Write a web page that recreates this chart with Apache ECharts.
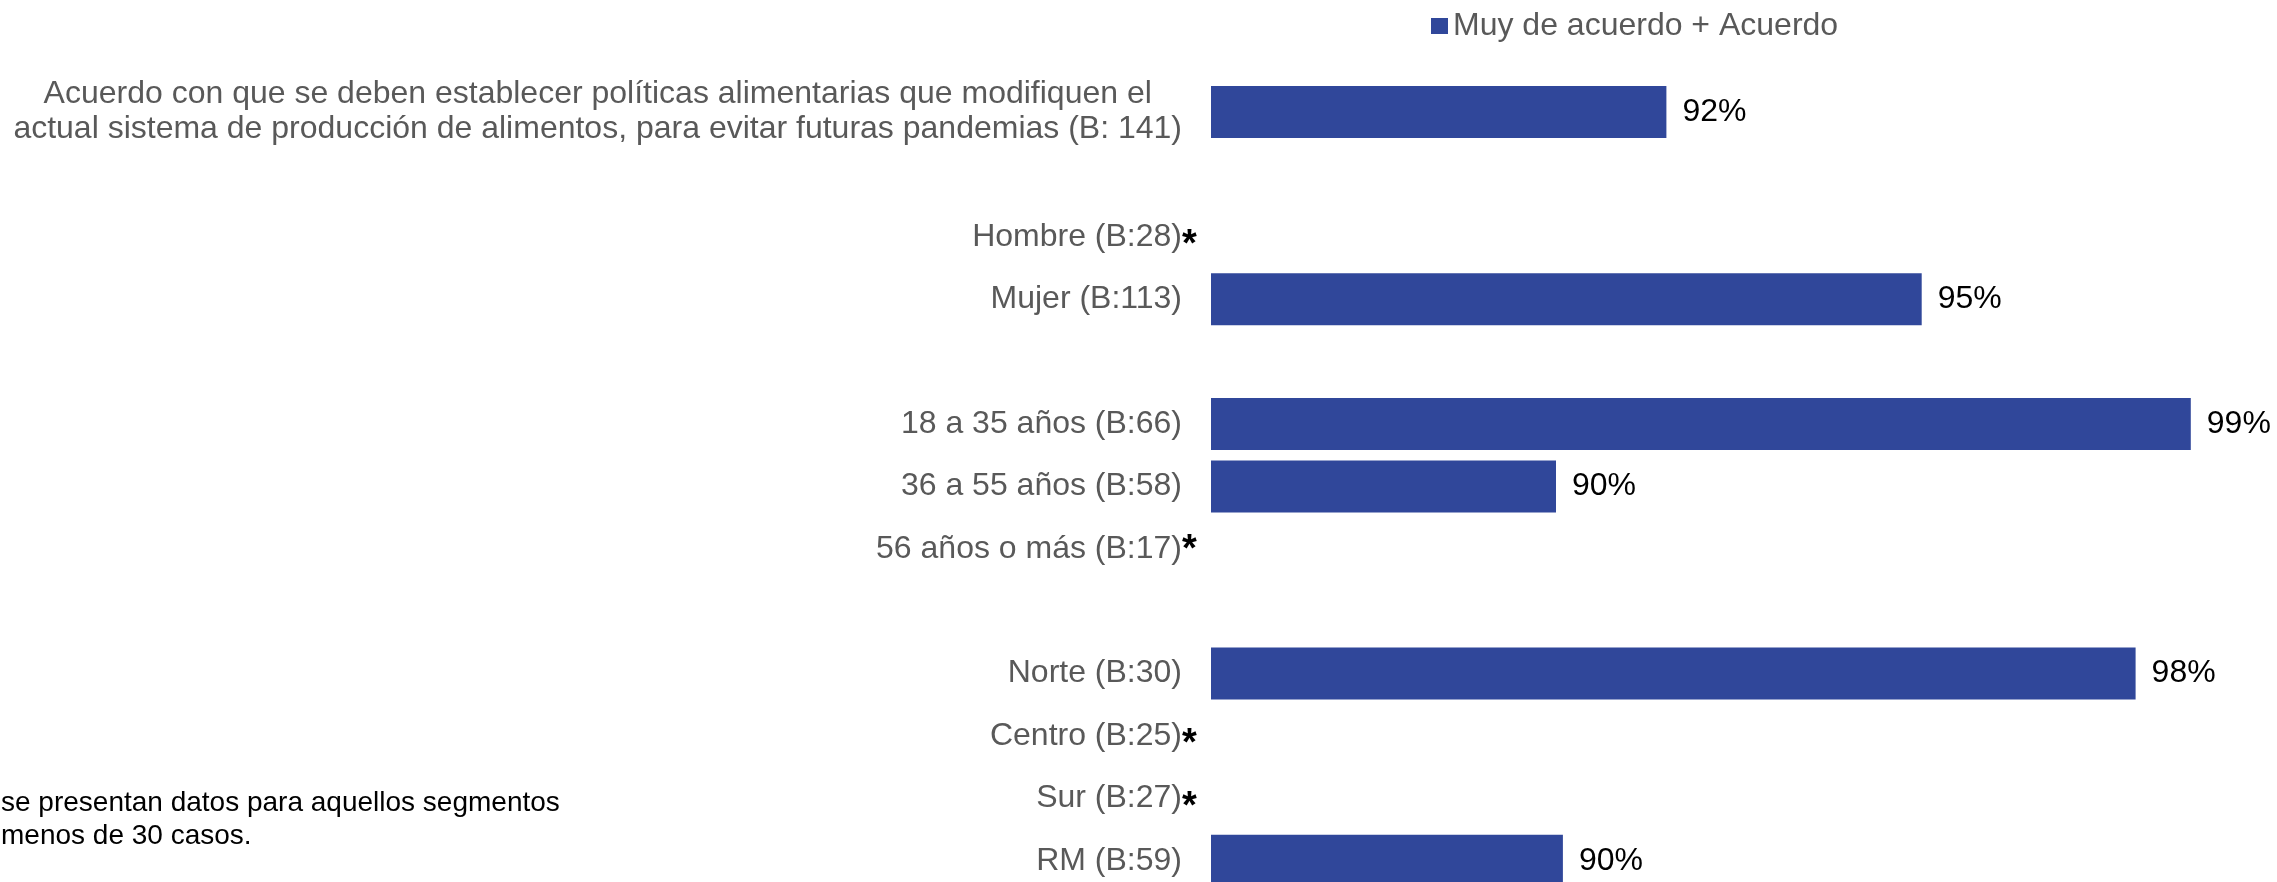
<!DOCTYPE html>
<html>
<head>
    <meta charset="utf-8">
    <script type="text/javascript" src="https://cdn.jsdelivr.net/npm/echarts@6/dist/echarts.min.js"></script>
</head>

<body style="margin:0;background:#fff;">
<div id="main" style="width:2277px;height:882px;"></div>

<script type="text/javascript">
    // categorias de arriba hacia abajo (las vacias son separadores)
    var categorias = [
        'Acuerdo con que se deben establecer políticas alimentarias que modifiquen el\nactual sistema de producción de alimentos, para evitar futuras pandemias (B: 141)',
        ' ',
        'Hombre (B:28)',
        'Mujer (B:113)',
        '  ',
        '18 a 35 años (B:66)',
        '36 a 55 años (B:58)',
        '56 años o más (B:17)',
        '   ',
        'Norte (B:30)',
        'Centro (B:25)',
        'Sur (B:27)',
        'RM (B:59)'
    ];
    // Muy de acuerdo + Acuerdo (%), null = sin dato (menos de 30 casos)
    var valores = [91.6, null, null, 95.3, null, 99.2, 90.0, null, null, 98.4, null, null, 90.1];
    // segmentos con menos de 30 casos -> llevan asterisco
    var menos30 = ['Hombre (B:28)', '56 años o más (B:17)', 'Centro (B:25)', 'Sur (B:27)'];
    var nombreSerie = 'Muy de acuerdo + Acuerdo';
    var notaPie = 'se presentan datos para aquellos segmentos\nmenos de 30 casos.';

    var fuente = 'Liberation Sans, Arial, sans-serif';
    var gris = '#595959';
    var azul = '#30479A';

    var myChart = echarts.init(document.getElementById('main'));

    var option = {
        animation: false,
        backgroundColor: '#ffffff',
        legend: {
            data: [nombreSerie],
            left: 1426,
            top: 5,
            icon: 'rect',
            itemWidth: 17,
            itemHeight: 16,
            textStyle: {color: gris, fontSize: 32, fontFamily: fuente}
        },
        grid: {
            left: 1211,
            top: 80.8,
            width: 1035,
            height: 811.2,
            // la ultima barra queda cortada por el borde, igual que el original
            outerBoundsMode: 'none'
        },
        xAxis: {
            type: 'value',
            min: 85,
            max: 100,
            show: false
        },
        yAxis: {
            type: 'category',
            inverse: true,
            data: categorias,
            axisLine: {show: false},
            axisTick: {show: false},
            axisLabel: {
                interval: 0,
                margin: 29,
                color: gris,
                fontSize: 32,
                fontFamily: fuente,
                formatter: function (value) {
                    if (value.indexOf('\n') >= 0) {
                        return value.split('\n').map(function (l) {
                            return '{c|' + l + '}';
                        }).join('\n');
                    }
                    if (menos30.indexOf(value) >= 0) {
                        // el asterisco de 56 años va un poco mas arriba
                        var est = value.indexOf('56') === 0 ? 'a' : 'b';
                        return '{t|' + value + '}{' + est + '|*}';
                    }
                    return '{t|' + value + '}';
                },
                rich: {
                    t: {color: gris, fontSize: 32, fontFamily: fuente, align: 'left'},
                    c: {color: gris, fontSize: 32, fontFamily: fuente, align: 'center', lineHeight: 35},
                    // asterisco sin ancho: queda pegado a la derecha del texto
                    a: {color: '#000', fontSize: 38, fontWeight: 'bold', fontFamily: fuente, align: 'left', width: 0, padding: [4, 0, 0, 0]},
                    b: {color: '#000', fontSize: 38, fontWeight: 'bold', fontFamily: fuente, align: 'left', width: 0, padding: [18, 0, 0, 0]}
                }
            }
        },
        series: [
            {
                name: nombreSerie,
                type: 'bar',
                barWidth: 52,
                itemStyle: {color: azul},
                label: {
                    show: true,
                    position: 'right',
                    distance: 16,
                    color: '#000',
                    fontSize: 32,
                    fontFamily: fuente,
                    formatter: function (p) {
                        return Math.round(p.value) + '%';
                    }
                },
                data: valores
            }
        ],
        graphic: [
            {
                type: 'text',
                left: 1,
                top: 787,
                style: {
                    text: notaPie,
                    fill: '#000',
                    font: '28px ' + fuente,
                    lineHeight: 33
                }
            }
        ]
    };
    myChart.setOption(option);
</script>
</body>
</html>
